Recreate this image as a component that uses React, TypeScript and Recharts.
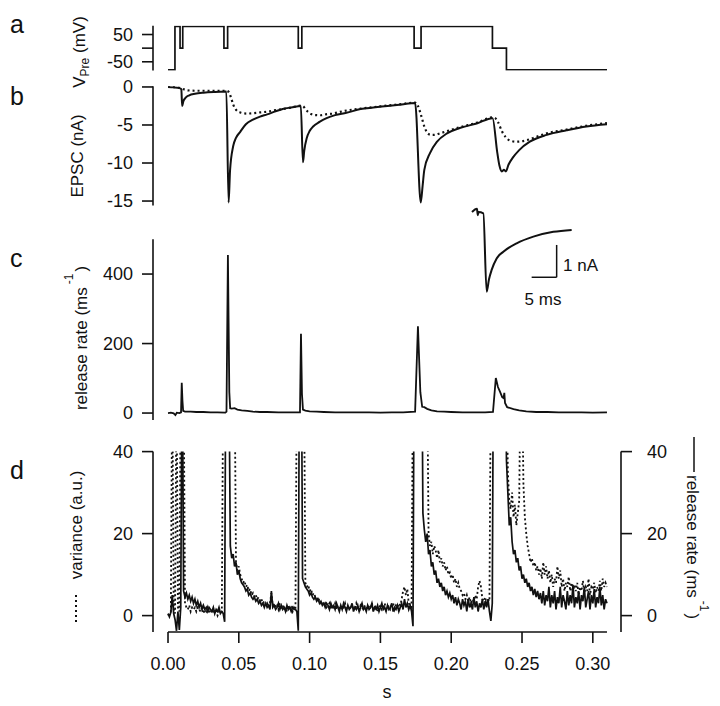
import { LineChart, Line, XAxis, YAxis, ReferenceLine } from "recharts";

const FONT = "'Liberation Sans', Arial, Helvetica, sans-serif";
const INK = "#111";

// shared time axis (s); plot spans x=153..621, t=0 sits at x=168
const X_DOMAIN: [number, number] = [-0.0106, 0.3199];

// a: presynaptic voltage command (mV)
const vTime = [0, 0.0049, 0.0085, 0.0104, 0.0395, 0.0421, 0.092, 0.0945, 0.1738, 0.1787, 0.2291, 0.239, 0.31];
const vPre = [-80, 80, 0, 80, 0, 80, 0, 80, 0, 80, 0, -80, -80];

// b: EPSC (nA), solid and dotted traces
const epscTime = [
  0, 0.004, 0.008, 0.0094, 0.01, 0.0108, 0.0125, 0.015, 0.019, 0.025, 0.033, 0.0412, 0.0428, 0.0438,
  0.046, 0.048, 0.051, 0.055, 0.06, 0.065, 0.07, 0.076, 0.081, 0.087, 0.0938, 0.0953, 0.0962, 0.098,
  0.1, 0.1025, 0.107, 0.112, 0.118, 0.126, 0.136, 0.145, 0.155, 0.165, 0.1745, 0.1785, 0.1798, 0.181,
  0.185, 0.19, 0.197, 0.206, 0.218, 0.2292, 0.2325, 0.234, 0.2358, 0.2372, 0.2386, 0.2405, 0.2435,
  0.248, 0.2555, 0.2675, 0.2815, 0.2955, 0.31,
];
const epscSolid = [
  0, -0.05, -0.15, -0.3, -2.5, -1.9, -1.4, -1.1, -0.9, -0.75, -0.65, -0.6, -15.2, -11.0,
  -7.8, -6.7, -5.9, -4.9, -4.3, -3.9, -3.6, -3.2, -2.9, -2.7, -2.5, -9.9, -8.4, -6.7,
  -5.8, -5.2, -4.6, -4.1, -3.7, -3.4, -2.9, -2.7, -2.5, -2.3, -2.1, -15.2, -13.0, -10.9,
  -8.7, -7.2, -6.1, -5.4, -4.8, -4.1, -8.6, -10.3, -11.1, -10.9, -11.1, -10.2, -9.3,
  -8.3, -7.2, -6.3, -5.7, -5.2, -4.9,
];
const dotTime = [
  0, 0.006, 0.009, 0.011, 0.014, 0.02, 0.03, 0.0412, 0.043, 0.0445, 0.046, 0.048, 0.051, 0.0555,
  0.06, 0.065, 0.07, 0.076, 0.081, 0.087, 0.0938, 0.0955, 0.097, 0.099, 0.101, 0.104, 0.108, 0.1115,
  0.1166, 0.121, 0.126, 0.136, 0.145, 0.155, 0.165, 0.1745, 0.1765, 0.179, 0.181, 0.183, 0.1855,
  0.188, 0.192, 0.199, 0.206, 0.218, 0.2292, 0.231, 0.233, 0.236, 0.2385, 0.241, 0.246, 0.2535,
  0.258, 0.2675, 0.2815, 0.2955, 0.31,
];
const epscDotted = [
  0, -0.05, -0.15, -0.3, -0.45, -0.5, -0.5, -0.5, -0.7, -1.4, -2.3, -3.0, -3.35, -3.5,
  -3.45, -3.35, -3.25, -3.05, -2.9, -2.7, -2.45, -2.55, -2.9, -3.3, -3.55, -3.7, -3.72, -3.6,
  -3.5, -3.3, -3.1, -2.85, -2.65, -2.45, -2.25, -2.05, -2.5, -3.9, -5.2, -6.0, -6.3,
  -6.3, -6.1, -5.7, -5.3, -4.7, -4.0, -4.1, -4.6, -5.9, -6.6, -7.0, -7.2, -7.0,
  -6.7, -6.1, -5.6, -5.1, -4.75,
];

// inset: first EPSC, ms / nA
const insetTime = [0, 1.0, 1.15, 1.3, 2.27, 2.93, 3.4, 3.93, 4.93, 6.27, 8.93, 12.27, 16.27, 19.93];
const insetEpsc = [0, 0.1, -0.1, 0, -0.04, -2.49, -2.1, -1.81, -1.45, -1.24, -0.98, -0.77, -0.62, -0.56];

// c: release rate (ms^-1)
const rateTime = [
  0, 0.002, 0.004, 0.0052, 0.0062, 0.008, 0.0092, 0.0097, 0.0102, 0.0107, 0.012, 0.016, 0.02, 0.025,
  0.03, 0.035, 0.0405, 0.0413, 0.0423, 0.0433, 0.0439, 0.045, 0.047, 0.049, 0.052, 0.056, 0.06, 0.065,
  0.07, 0.078, 0.086, 0.0932, 0.0939, 0.0946, 0.0953, 0.097, 0.1, 0.105, 0.11, 0.118, 0.126, 0.134,
  0.142, 0.15, 0.158, 0.166, 0.1745, 0.1765, 0.1782, 0.1795, 0.181, 0.183, 0.186, 0.19, 0.195, 0.2,
  0.208, 0.216, 0.224, 0.2295, 0.2315, 0.233, 0.2345, 0.236, 0.237, 0.2375, 0.238, 0.2395, 0.244,
  0.248, 0.253, 0.26, 0.268, 0.276, 0.284, 0.292, 0.3, 0.31,
];
const releaseRate = [
  0, 1, -1, -6, 1, 0, 2, 87, 35, 6, 4, 4, 3, 3,
  2, 2, 1, 4, 455, 60, 14, 13, 14, 10, 8, 6, 4, 3,
  3, 2, 2, 2, 228, 55, 10, 7, 5, 4, 3, 2, 2, 2,
  2, 1, 2, 2, 4, 250, 60, 18, 17, 12, 8, 5, 4, 3,
  2, 2, 2, 3, 101, 75, 61, 46, 43, 58, 29, 17, 11,
  8, 5, 3, 3, 2, 2, 2, 1, 2,
];

// d: 1 ms samples from 0 to 310 ms; release rate (solid) and variance (dotted)
const D_STEP = 0.001;
const dRate = [
  0.5, -0.3, 0.8, 5, 0.5, -1, -3.7, 1, -3.5, 2,
  70, 6, 4.5, 5.5, 4, 5, 3.5, 4.5, 3, 4,
  2.5, 3.5, 2, 3, 1.5, 2.5, 1.5, 2, 1, 2,
  1.5, 1, 2, 0.5, 1.5, 1, 2, 0.5, 1, 0.5,
  -1.5, 80, 80, 60, 17, 14, 15, 12, 13, 10,
  11, 9, 8, 7.5, 7, 6, 6.5, 5, 5.5, 4.5,
  4, 4.5, 3.5, 4, 3, 3.5, 2.5, 3, 2, 3,
  2, 2.5, 1.5, 6, 2, 2.5, 1.5, 2, 3, 1.5,
  2.5, 1.5, 2, 1, 2.5, 1.5, 2, 1, 2, 1.5,
  1.5, 1, -3.7, 80, 80, 9, 8, 7, 6.5, 6,
  5, 5.5, 4.5, 4, 4.5, 3.5, 4, 3, 3.5, 2.5,
  3, 2, 3, 2.5, 1.5, 3, 2, 2.5, 1.5, 3,
  2, 1, 2.5, 1.5, 3, 2, 1, 2.5, 1.5, 2,
  3, 1, 2, 1.5, 2.5, 1, 2, 3, 1.5, 2,
  1, 2.5, 1.5, 2, 3, 1, 2, 1.5, 2.5, 1,
  2, 3, 1.5, 2, 1, 2.5, 1.5, 2, 3, 1,
  2, 1.5, 2.5, 1, 2, 3, 1.5, 4, 2, 3,
  1.5, 2.5, 1, -2.6, 80, 80, 80, 80, 80, 80,
  25, 21, 18, 20, 15, 16, 12, 13, 10, 11,
  8, 9, 7, 8, 6, 7, 5, 6, 4.5, 5.5,
  4, 5, 3, 4.5, 2.5, 4, 3, 1.5, 4, 2.5,
  3.5, 1, 4, 2, 3, 1.5, 4.5, 2, 3.5, 1,
  3, 2, 4, 1.5, 3.5, 2, 4, 1, -1.3, 3,
  80, 80, 80, 80, 80, 80, 80, 80, 80, 38,
  30, 22, 24, 18, 15, 16, 13, 14, 11, 12,
  9, 10, 8, 9, 7, 8, 6, 7, 5, 6.5,
  4.5, 6, 4, 5.5, 3, 6, 2.5, 5, 3.5, 7,
  2, 5, 3, 6, 1.5, 4.5, 3, 7, 2, 5,
  3.5, 1.5, 6, 2.5, 5, 3, 7.5, 2, 4.5, 3,
  6, 1.5, 5, 3.5, 7, 2, 4, 6, 1.5, 5,
  3, 6.5, 2, 4.5, 3, 7, 2.5, 5, 1.5, 4,
  3,
];
const dVariance = [
  0, 0.5, 1, 60, 1.5, 0.5, 60, 2, 1, 60,
  60, 60, 3, 2, 1.5, 2.5, 1, 2, 1.5, 2,
  1, 2, 1.5, 1, 2, 0.5, 1.5, 1, 2, 0.5,
  1.5, 1, 0.5, 1.5, 1, 0, 1, 0.5, 1, 60,
  60, 60, 60, 60, 60, 60, 60, 60, 13, 11,
  12, 10, 9, 8, 8.5, 7, 7.5, 6, 6.5, 5,
  5.5, 4.5, 5, 4, 4.5, 3.5, 4, 3, 3.5, 2.5,
  3, 2, 3, 5.5, 2.5, 3, 2, 2.5, 1.5, 3,
  2, 2.5, 1.5, 2, 1, 2.5, 1.5, 2, 1, 2,
  1.5, 60, 60, 60, 60, 60, 60, 8, 7, 7.5,
  6, 6.5, 5, 5.5, 4.5, 4, 4.5, 3.5, 3, 3.5,
  2.5, 3, 2, 2.5, 3, 1.5, 2.5, 2, 3, 1.5,
  2.5, 2, 1.5, 2.5, 2, 3, 1.5, 2, 2.5, 1.5,
  2, 2.5, 1.5, 3, 2, 1, 2.5, 2, 1.5, 2.5,
  2, 1.5, 2.5, 2, 3, 1.5, 2, 2.5, 1, 2,
  2.5, 1.5, 2, 3, 1.5, 2, 2.5, 1.5, 2, 3,
  1.5, 2.5, 2, 3, 2.5, 4, 6, 7, 5, 6.5,
  3, 2.5, 2, 60, 60, 60, 60, 60, 60, 60,
  60, 60, 60, 60, 20, 17, 18, 15, 17, 16,
  14, 16, 13, 14, 12, 13, 11, 12, 10, 10.5,
  9, 10, 8, 9, 7, 8, 6.5, 6, 5, 5.5,
  4, 5, 3.5, 4.5, 3, 4, 3.5, 5, 4, 7,
  8.5, 7, 4, 3.5, 4.5, 3, 4, 3.5, 60, 60,
  60, 60, 60, 60, 60, 60, 60, 60, 60, 60,
  35, 28, 26, 30, 24, 27, 22, 25, 28, 60,
  60, 32, 24, 20, 17, 15, 13, 14, 12, 13,
  11, 12, 10, 11.5, 9, 13, 10, 12, 9, 11,
  8, 10, 7, 9, 8, 12, 9, 11, 7, 9,
  6, 8, 7, 9.5, 6, 8, 5.5, 7.5, 6, 8,
  5, 7, 6, 8.5, 5.5, 7, 6, 9, 5, 7,
  6.5, 8, 5.5, 7, 6, 8.5, 6, 9, 7, 8,
  7,
];

const timeTicks = [0, 0.05, 0.1, 0.15, 0.2, 0.25, 0.3];

const aRows = vTime.map((t, i) => ({ t, v: vPre[i] }));
const bSolidRows = epscTime.map((t, i) => ({ t, v: epscSolid[i] }));
const bDotRows = dotTime.map((t, i) => ({ t, v: epscDotted[i] }));
const insetRows = insetTime.map((t, i) => ({ t, v: insetEpsc[i] }));
const cRows = rateTime.map((t, i) => ({ t, v: releaseRate[i] }));
const dRows = dRate.map((r, i) => ({ t: i * D_STEP, rate: r, variance: dVariance[i] }));

const AXIS = { stroke: INK, strokeWidth: 1.6 };
const TICK = { fill: INK, fontSize: 18, fontFamily: FONT };

const place = (left: number, top: number) => ({ position: "absolute" as const, left, top });

export default function App() {
  return (
    <div style={{ position: "absolute", left: 0, top: 0, width: 720, height: 706, background: "#fff" }}>
      {/* a */}
      <div style={place(0, 16)}>
        <LineChart width={720} height={60} data={aRows} margin={{ top: 9.8, right: 99, bottom: 5.5, left: 0 }}>
          <XAxis type="number" dataKey="t" domain={X_DOMAIN} allowDataOverflow hide />
          <YAxis
            type="number"
            domain={[-82, 82]}
            allowDataOverflow
            ticks={[-50, 0, 50]}
            interval={0}
            tickFormatter={(v: number) => (v === 0 ? "" : String(v))}
            width={153}
            tickSize={11}
            tickMargin={9}
            tick={TICK}
            axisLine={AXIS}
            tickLine={AXIS}
          />
          <Line type="stepAfter" dataKey="v" stroke={INK} strokeWidth={1.7} dot={false} isAnimationActive={false} />
        </LineChart>
      </div>

      {/* b */}
      <div style={place(0, 76)}>
        <LineChart width={720} height={135} margin={{ top: 10.2, right: 99, bottom: 5.4, left: 0 }}>
          <XAxis type="number" dataKey="t" domain={X_DOMAIN} allowDataOverflow hide />
          <YAxis
            type="number"
            domain={[-15.6, 0.1]}
            allowDataOverflow
            ticks={[-15, -10, -5, 0]}
            interval={0}
            width={153}
            tickSize={11}
            tickMargin={9}
            tick={TICK}
            axisLine={AXIS}
            tickLine={AXIS}
          />
          <Line data={bDotRows} type="monotone" dataKey="v" stroke={INK} strokeWidth={2.2} strokeDasharray="2 3" dot={false} isAnimationActive={false} />
          <Line data={bSolidRows} type="monotone" dataKey="v" stroke={INK} strokeWidth={2} dot={false} isAnimationActive={false} />
        </LineChart>
      </div>

      {/* c */}
      <div style={place(0, 229)}>
        <LineChart width={720} height={196} data={cRows} margin={{ top: 10.3, right: 99, bottom: 5, left: 0 }}>
          <XAxis type="number" dataKey="t" domain={X_DOMAIN} allowDataOverflow hide />
          <YAxis
            type="number"
            domain={[-20, 500]}
            allowDataOverflow
            ticks={[0, 200, 400]}
            interval={0}
            width={153}
            tickSize={11}
            tickMargin={9}
            tick={TICK}
            axisLine={AXIS}
            tickLine={AXIS}
          />
          <Line type="linear" dataKey="v" stroke={INK} strokeWidth={1.8} dot={false} isAnimationActive={false} />
        </LineChart>
      </div>

      {/* inset with scale bars */}
      <div style={place(440, 190)}>
        <LineChart width={160} height={130} data={insetRows} margin={{ top: 0, right: 0, bottom: 0, left: 0 }}>
          <XAxis type="number" dataKey="t" domain={[-6.4, 25.6]} allowDataOverflow hide />
          <YAxis type="number" domain={[-3.375, 0.6875]} allowDataOverflow hide />
          <Line type="monotone" dataKey="v" stroke={INK} strokeWidth={2} dot={false} isAnimationActive={false} />
          <ReferenceLine segment={[{ x: 16.93, y: -1.03 }, { x: 16.93, y: -2.04 }]} stroke={INK} strokeWidth={1.5} ifOverflow="visible" />
          <ReferenceLine segment={[{ x: 11.93, y: -2.04 }, { x: 16.93, y: -2.04 }]} stroke={INK} strokeWidth={1.5} ifOverflow="visible" />
        </LineChart>
      </div>

      {/* d */}
      <div style={place(0, 440)}>
        <LineChart width={720} height={252} data={dRows} margin={{ top: 11.6, right: 19, bottom: 0, left: 0 }}>
          <XAxis
            type="number"
            dataKey="t"
            domain={X_DOMAIN}
            allowDataOverflow
            ticks={timeTicks}
            interval={0}
            tickFormatter={(v: number) => v.toFixed(2)}
            height={60}
            tickSize={11}
            tickMargin={14}
            tick={TICK}
            axisLine={false}
            tickLine={AXIS}
          />
          <YAxis
            yAxisId="left"
            type="number"
            domain={[-4, 40]}
            allowDataOverflow
            ticks={[0, 20, 40]}
            interval={0}
            width={153}
            tickSize={11}
            tickMargin={9}
            tick={TICK}
            axisLine={AXIS}
            tickLine={AXIS}
          />
          <YAxis
            yAxisId="right"
            orientation="right"
            type="number"
            domain={[-4, 40]}
            allowDataOverflow
            ticks={[0, 20, 40]}
            interval={0}
            width={80}
            tickSize={11}
            tickMargin={15}
            tick={TICK}
            axisLine={AXIS}
            tickLine={AXIS}
          />
          <ReferenceLine yAxisId="left" segment={[{ x: 0, y: -4 }, { x: 0.31, y: -4 }]} stroke={INK} strokeWidth={1.6} ifOverflow="visible" />
          <Line yAxisId="right" type="linear" dataKey="rate" stroke={INK} strokeWidth={1.7} dot={false} isAnimationActive={false} />
          <Line yAxisId="left" type="linear" dataKey="variance" stroke={INK} strokeWidth={1.8} strokeDasharray="2 2.5" dot={false} isAnimationActive={false} />
        </LineChart>
      </div>

      {/* letters, axis titles, scale-bar labels */}
      <svg width={720} height={706} style={{ position: "absolute", left: 0, top: 0, pointerEvents: "none" }} fontFamily={FONT} fill={INK}>
        <text x={10} y={33} fontSize={25}>a</text>
        <text x={10} y={105} fontSize={25}>b</text>
        <text x={10} y={267} fontSize={25}>c</text>
        <text x={10} y={479} fontSize={25}>d</text>

        <text transform="translate(85 52) rotate(-90)" textAnchor="middle" fontSize={17}>
          V<tspan fontSize={12} dy={4}>Pre</tspan>
          <tspan dy={-4}> (mV)</tspan>
        </text>
        <text transform="translate(83 156) rotate(-90)" textAnchor="middle" fontSize={17}>
          EPSC (nA)
        </text>
        <text transform="translate(87 338) rotate(-90)" textAnchor="middle" fontSize={17}>
          release rate (ms
          <tspan fontSize={12} dx={3} dy={-14}>-1</tspan>
          <tspan dx={2} dy={14}>)</tspan>
        </text>

        <line x1={76} x2={76} y1={622} y2={594} stroke={INK} strokeWidth={2} strokeDasharray="2 3" />
        <text transform="translate(82 525) rotate(-90)" textAnchor="middle" fontSize={17}>
          variance (a.u.)
        </text>

        <line x1={694} x2={694} y1={437} y2={472} stroke={INK} strokeWidth={1.5} />
        <text transform="translate(687 475) rotate(90)" fontSize={17}>
          release rate (ms
          <tspan fontSize={12} dx={3} dy={-13}>-1</tspan>
          <tspan dx={2} dy={13}>)</tspan>
        </text>

        <text x={387} y={698} textAnchor="middle" fontSize={18}>s</text>
        <text x={563} y={271} fontSize={17}>1 nA</text>
        <text x={543} y={305} textAnchor="middle" fontSize={17}>5 ms</text>
      </svg>
    </div>
  );
}
